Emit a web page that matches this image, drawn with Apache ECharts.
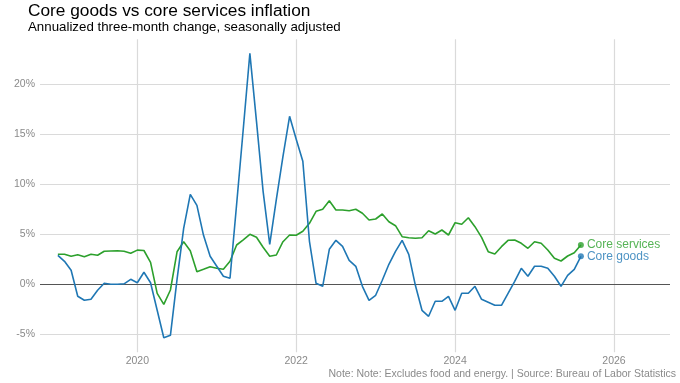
<!DOCTYPE html>
<html><head><meta charset="utf-8">
<script src="https://cdn.jsdelivr.net/npm/echarts@6/dist/echarts.min.js"></script>
<style>html,body{margin:0;padding:0;background:#fff}#c{width:680px;height:383px}</style>
</head><body><div id="c"></div>
<script>
const months = [
'2019-01','2019-02','2019-03','2019-04','2019-05','2019-06','2019-07','2019-08','2019-09','2019-10','2019-11','2019-12',
'2020-01','2020-02','2020-03','2020-04','2020-05','2020-06','2020-07','2020-08','2020-09','2020-10','2020-11','2020-12',
'2021-01','2021-02','2021-03','2021-04','2021-05','2021-06','2021-07','2021-08','2021-09','2021-10','2021-11','2021-12',
'2022-01','2022-02','2022-03','2022-04','2022-05','2022-06','2022-07','2022-08','2022-09','2022-10','2022-11','2022-12',
'2023-01','2023-02','2023-03','2023-04','2023-05','2023-06','2023-07','2023-08','2023-09','2023-10','2023-11','2023-12',
'2024-01','2024-02','2024-03','2024-04','2024-05','2024-06','2024-07','2024-08','2024-09','2024-10','2024-11','2024-12',
'2025-01','2025-02','2025-03','2025-04','2025-05','2025-06','2025-07','2025-08'];
const coreGoods = [2.9,2.3,1.4,-1.2,-1.6,-1.5,-0.6,0.1,0.0,0.0,
0.05,0.5,0.15,1.2,0.15,-2.6,-5.35,-5.1,0.5,5.6,
9.0,7.9,4.9,2.8,1.8,0.8,0.6,8.0,15.5,23.1,
16.3,9.3,4.0,8.5,12.8,16.8,14.5,12.3,4.3,0.1,
-0.2,3.5,4.4,3.8,2.4,1.8,-0.2,-1.6,-1.1,0.4,
2.0,3.3,4.4,3.0,-0.1,-2.6,-3.2,-1.7,-1.7,-1.2,
-2.6,-0.9,-0.9,-0.2,-1.5,-1.8,-2.1,-2.1,-0.9,0.3,
1.6,0.8,1.8,1.8,1.6,0.8,-0.2,0.9,1.5,2.8];
const coreServices = [3.0,3.0,2.8,2.95,2.75,3.0,2.9,3.3,3.33,3.35,
3.3,3.1,3.42,3.38,2.2,-0.9,-2.0,-0.57,3.25,4.25,
3.35,1.26,1.5,1.75,1.6,1.5,2.3,3.93,4.45,5.0,
4.7,3.7,2.8,2.93,4.26,4.93,4.9,5.3,6.1,7.3,
7.5,8.36,7.43,7.43,7.36,7.5,7.1,6.43,6.53,7.03,
6.26,5.86,4.76,4.66,4.6,4.66,5.36,5.03,5.43,4.93,
6.16,6.0,6.66,5.76,4.7,3.26,3.03,3.76,4.4,4.43,
4.1,3.6,4.26,4.1,3.43,2.6,2.33,2.83,3.16,3.93];
const xTicks = [2020,2022,2024,2026];
const yTicks = [-5,0,5,10,15,20];
const seriesNames = ['Core services','Core goods'];
const colors = {services:'#2ca02c', goods:'#1f77b4'};

const FONT = 'Liberation Sans, Arial, sans-serif';
// convert 'YYYY-MM' to decimal year for a continuous axis
const decYear = s => { const [y,m] = s.split('-').map(Number); return y + (m-1)/12; };
const toPairs = arr => arr.map((v,i)=>[decYear(months[i]), v]);
const last = arr => [[decYear(months[arr.length-1]), arr[arr.length-1]]];

const chart = echarts.init(document.getElementById('c'), null, {renderer:'canvas'});
chart.setOption({
  animation:false,
  textStyle:{fontFamily:FONT},
  title:[
    {text:'Core goods vs core services inflation', left:28, top:2.5, padding:0,
     textStyle:{fontSize:17.3, fontWeight:'normal', color:'#000', fontFamily:FONT}},
    {text:'Annualized three-month change, seasonally adjusted', left:28, top:21, padding:0,
     textStyle:{fontSize:13.3, fontWeight:'normal', color:'#000', fontFamily:FONT}},
    {text:'Note: Note: Excludes food and energy. | Source: Bureau of Labor Statistics', right:4, bottom:3, padding:0,
     textStyle:{fontSize:10.5, fontWeight:'normal', color:'#8a8a8a', fontFamily:FONT}}
  ],
  grid:{left:40, right:10, top:39.3, bottom:30.7, containLabel:false},
  xAxis:{
    type:'value', min:2018.775, max:2026.705,
    axisLine:{show:false}, axisTick:{show:false, customValues:xTicks},
    axisLabel:{customValues:xTicks, formatter:v=>String(v),
      color:'#8a8a8a', fontSize:10.5, margin:3, fontFamily:FONT},
    splitLine:{show:true, lineStyle:{color:'#dadada', width:1.2}}
  },
  yAxis:{
    type:'value', min:-6.8, max:24.5,
    axisLine:{show:false}, axisTick:{show:false, customValues:yTicks},
    axisLabel:{customValues:yTicks, formatter:v=>v+'%', color:'#8a8a8a', fontSize:10.5, margin:5, fontFamily:FONT},
    splitLine:{show:true, lineStyle:{color:'#dadada', width:1}}
  },
  series:[
    {name:seriesNames[0], type:'line', data:toPairs(coreServices), symbol:'none',
     lineStyle:{color:colors.services, width:1.6}, itemStyle:{color:colors.services}, z:3,
     markLine:{silent:true, symbol:'none', label:{show:false}, lineStyle:{color:'#555', width:1, type:'solid'},
       data:[{yAxis:0}], z:2}},
    {name:seriesNames[1], type:'line', data:toPairs(coreGoods), symbol:'none',
     lineStyle:{color:colors.goods, width:1.6}, itemStyle:{color:colors.goods}, z:4},
    {name:seriesNames[0]+' end', type:'scatter', data:last(coreServices), symbolSize:6, z:5,
     itemStyle:{color:colors.services},
     label:{show:true, position:'right', distance:3, formatter:()=>seriesNames[0], color:colors.services, fontSize:12, fontFamily:FONT}},
    {name:seriesNames[1]+' end', type:'scatter', data:last(coreGoods), symbolSize:6, z:5,
     itemStyle:{color:colors.goods},
     label:{show:true, position:'right', distance:3, formatter:()=>seriesNames[1], color:colors.goods, fontSize:12, fontFamily:FONT}}
  ]
});
</script></body></html>
